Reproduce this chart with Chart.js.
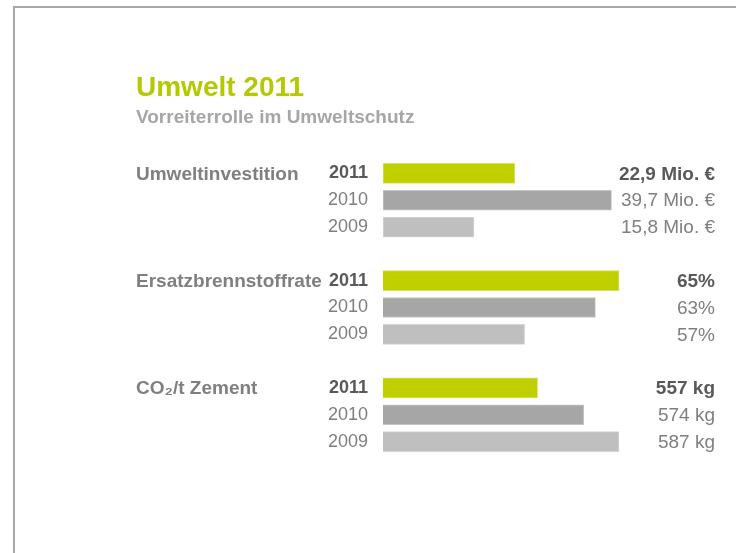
<!DOCTYPE html>
<html>
<head>
<meta charset="utf-8">
<script src="https://cdn.jsdelivr.net/npm/chart.js@4.4.1/dist/chart.umd.min.js"></script>
<style>
    html, body { margin: 0; padding: 0; background: #fff; }
    #wrap { position: relative; width: 736px; height: 553px; }
    #frame {
        position: absolute; left: 13px; top: 6px; right: 0; bottom: 0;
        border-left: 2px solid #a8a8a8; border-top: 2px solid #a8a8a8;
    }
    canvas { position: absolute; left: 0; top: 0; }
</style>
</head>
<body>
<div id="wrap">
    <div id="frame"></div>
    <canvas id="umwelt" width="736" height="553"></canvas>
</div>
<script>
// Data
const groups = ['Umweltinvestition', 'Ersatzbrennstoffrate', 'CO₂/t Zement'];
const years = ['2011', '2010', '2009'];
const invest = [22.9, 39.7, 15.8];      // Mio. €
const fuelRate = [65, 63, 57];          // %
const co2 = [557, 574, 587];            // kg

const fmtInvest = v => v.toFixed(1).replace('.', ',') + ' Mio. €';
const fmtRate = v => v + '%';
const fmtCo2 = v => v + ' kg';

const FONT = '"Liberation Sans", Arial, sans-serif';
const yearColors = ['#bfcf00', '#a6a6a6', '#bfbfbf'];
const yearBorders = ['#d6e066', '#c4c4c4', '#d4d4d4'];

// 3 rows per group + 1 empty row between groups
const rowLabels = [];
groups.forEach((g, i) => {
    years.forEach(y => rowLabels.push(y));
    if (i < groups.length - 1) rowLabels.push('');
});

const rowData = (values, gi) => {
    const out = rowLabels.map(() => null);
    values.forEach((v, i) => { out[gi * 4 + i] = v; });
    return out;
};
const rowColors = (list) => rowLabels.map((l, i) => list[i % 4] || 'transparent');

const series = [
    { values: invest, fmt: fmtInvest, axis: 'x1' },
    { values: fuelRate, fmt: fmtRate, axis: 'x2' },
    { values: co2, fmt: fmtCo2, axis: 'x3' }
];

// Texts: title, group names and value labels
const textPlugin = {
    id: 'texts',
    afterDraw(chart) {
        const ctx = chart.ctx;
        const yScale = chart.scales.y;
        ctx.save();
        ctx.textBaseline = 'alphabetic';
        ctx.textAlign = 'left';
        ctx.fillStyle = '#b5c800';
        ctx.font = 'bold 28px ' + FONT;
        ctx.fillText('Umwelt 2011', 136, 96);
        ctx.fillStyle = '#a6a6a6';
        ctx.font = 'bold 19px ' + FONT;
        ctx.fillText('Vorreiterrolle im Umweltschutz', 136, 123);

        ctx.textBaseline = 'middle';
        groups.forEach((g, gi) => {
            const y0 = yScale.getPixelForValue(gi * 4);
            ctx.textAlign = 'left';
            ctx.fillStyle = '#7f7f7f';
            ctx.font = 'bold 19px ' + FONT;
            ctx.fillText(g, 136, y0 + 1);

            ctx.textAlign = 'right';
            series[gi].values.forEach((v, i) => {
                const y = yScale.getPixelForValue(gi * 4 + i);
                ctx.fillStyle = i === 0 ? '#595959' : '#7f7f7f';
                ctx.font = (i === 0 ? 'bold ' : '') + '19px ' + FONT;
                ctx.fillText(series[gi].fmt(v), 715, y + 1);
            });
        });
        ctx.restore();
    }
};

const hiddenX = (min, max) => ({
    type: 'linear', display: false, min: min, max: max,
    grid: { display: false }
});

new Chart('umwelt', {
    type: 'bar',
    data: {
        labels: rowLabels,
        datasets: series.map((s, gi) => ({
            data: rowData(s.values, gi),
            xAxisID: s.axis,
            backgroundColor: rowColors(yearColors),
            borderColor: rowColors(yearBorders),
            borderWidth: 1,
            borderSkipped: false,
            barThickness: 20,
            grouped: false
        }))
    },
    options: {
        indexAxis: 'y',
        responsive: false,
        animation: false,
        layout: { padding: { left: 0, right: 113, top: 160, bottom: 98 } },
        plugins: {
            legend: { display: false },
            tooltip: { enabled: false }
        },
        scales: {
            x1: hiddenX(0, 41.7),
            x2: hiddenX(45, 65.34),
            x3: hiddenX(500, 588.5),
            y: {
                type: 'category',
                grid: { display: false, drawTicks: false },
                border: { display: false },
                ticks: {
                    padding: 15,
                    autoSkip: false,
                    font: ctx => ({
                        family: FONT,
                        size: 18,
                        weight: ctx.index % 4 === 0 ? 'bold' : 'normal'
                    }),
                    color: ctx => ctx.index % 4 === 0 ? '#595959' : '#7f7f7f'
                },
                afterFit: scale => { scale.width = 383; }
            }
        }
    },
    plugins: [textPlugin]
});
</script>
</body>
</html>
